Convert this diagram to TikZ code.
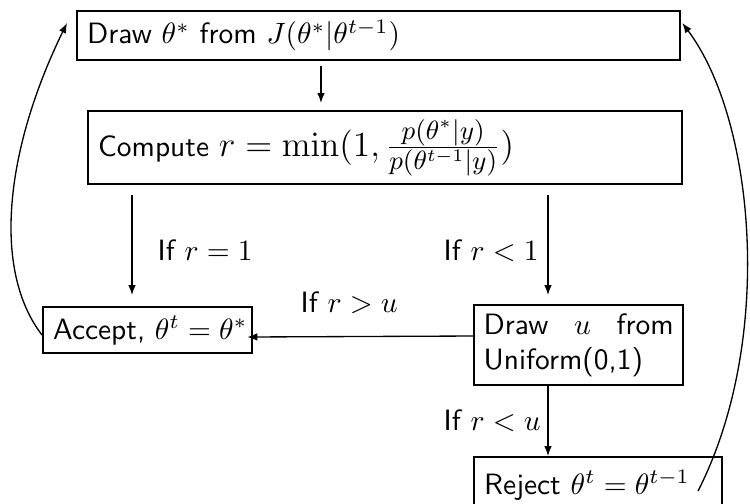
\documentclass[tikz,border=0pt]{standalone}
\usetikzlibrary{arrows.meta,calc}
\begin{document}
\begin{tikzpicture}[x=0.34pt,y=-0.34pt,
  box/.style={draw, line width=0.8pt, anchor=north west, inner xsep=3.4pt, inner ysep=0pt, align=left, font=\sffamily},
  conn/.style={-{Latex[length=3.4pt,width=2.6pt]}, line width=0.45pt},
  lbl/.style={font=\sffamily, anchor=base west, inner sep=0pt}]
\useasboundingbox (0,0) rectangle (750,503);

\node[box, text width=198.2pt, minimum height=16.66pt] (drw) at (76,10)
  {Draw $\theta^*$ from $J(\theta^*|\theta^{t-1})$};
\node[box, text width=195.2pt, minimum height=24.8pt] (comp) at (87,110)
  {\raisebox{-1.2pt}{Compute {\fontsize{12.6}{15}\selectfont$r=\min(1,\frac{p(\theta^*|y)}{p(\theta^{t-1}|y)})$}}};
\node[box, text width=64.26pt, minimum height=15.64pt] (acc) at (42,306)
  {\mbox{Accept, $\theta^t=\theta^*$}};
\node[box, inner xsep=3.23pt, text width=64.6pt, minimum height=27.2pt, align=justify] (dru) at (473,304)
  {Draw $u$ from Uniform(0,1)};
\node[box, text width=77.5pt, minimum height=19pt] (rej) at (473,456)
  {Reject $\theta^t=\theta^{t-1}$};

\node[lbl] (l1) at (157,260) {If $r=1$};
\node[lbl] (l2) at (443,260) {If $r<1$};
\node[lbl] (l3) at (300,312) {If $r>u$};
\node[lbl] (l4) at (443,430) {If $r<u$};

\draw[conn] ($(drw.south west)+(245,5)$) -- ($(comp.north west)+(234,-7)$);
\draw[conn] ($(comp.south west)+(45,10)$) -- ($(acc.north west)+(90,-11)$);
\draw[conn] ($(comp.south west)+(461,10)$) -- ($(dru.north west)+(75,-9)$);
\draw[conn] ($(dru.north west)+(0,32)$) -- ($(acc.north east)+(-6,31)$);
\draw[conn] ($(dru.south west)+(75,0)$) -- ($(rej.north west)+(75,0)$);
\draw[conn] ($(acc.north west)+(0,29)$) .. controls (-8,270) and (5,150) .. ($(drw.north west)+(-9,13)$);
\draw[conn] ($(rej.north west)+(225,35)$) .. controls (775,340) and (755,120) .. ($(drw.north east)+(1,13)$);
\end{tikzpicture}
\end{document}
